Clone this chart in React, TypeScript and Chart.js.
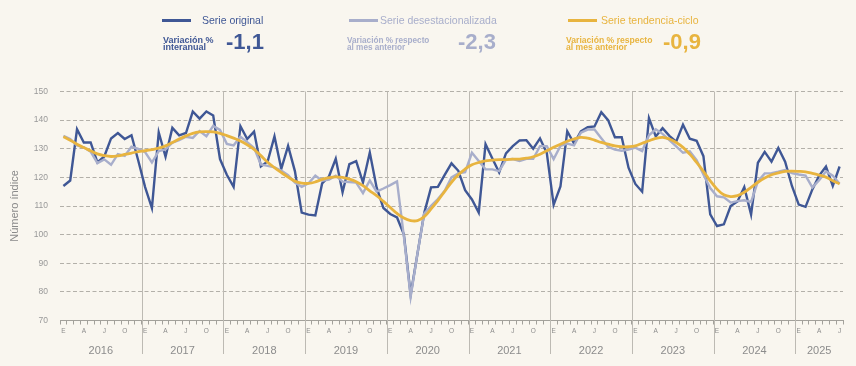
import React, { useEffect, useRef } from 'react';
import { Chart, registerables } from 'chart.js';

Chart.register(...registerables);

const years = [2016, 2017, 2018, 2019, 2020, 2021, 2022, 2023, 2024, 2025];
const monthsInLastYear = 7;
const monthLetters = ['E', 'F', 'M', 'A', 'M', 'J', 'J', 'A', 'S', 'O', 'N', 'D'];
const labeledMonths = [0, 3, 6, 9];
const yMin = 70;
const yMax = 150;
const yStep = 10;

const serieOriginal = [
  117.0, 118.9, 136.8, 132.2, 132.2, 125.2, 127.3, 133.6, 135.5, 133.4, 134.7, 125.8,
  116.6, 109.3, 135.7, 127.2, 137.3, 134.7, 135.5, 143.0, 140.5, 143.0, 141.6, 126.4,
  120.9, 116.7, 137.9, 133.4, 136.0, 123.8, 125.6, 134.3, 123.0, 131.0, 122.2, 107.7,
  107.0, 106.7, 117.9, 120.3, 126.5, 114.8, 124.6, 125.7, 118.2, 128.7, 116.5, 109.3,
  107.2, 106.0, 100.1, 79.0, 93.3, 107.6, 116.5, 116.7, 120.9, 124.9, 122.3, 115.5,
  112.3, 107.7, 131.6, 126.6, 121.7, 128.4, 130.9, 132.9, 133.0, 130.0, 133.6, 128.5,
  110.4, 116.8, 136.1, 131.8, 136.1, 137.5, 137.8, 142.8, 140.0, 134.0, 134.0, 123.4,
  117.7, 115.0, 140.7, 134.3, 137.2, 134.5, 132.5, 138.4, 133.5, 132.8, 127.4, 107.1,
  103.0, 103.6, 110.0, 111.6, 116.6, 107.0, 125.1, 128.9, 125.5, 130.3, 125.5, 117.0,
  110.5, 109.7, 115.8, 120.6, 123.8, 117.0, 123.8,
];

const serieDesestacionalizada = [
  134.5, 133.4, 131.2, 130.5, 129.0, 125.0, 126.3, 124.4, 128.1, 127.5, 130.7, 130.0,
  128.8, 125.2, 129.2, 129.8, 132.1, 133.0, 134.2, 133.8, 136.2, 134.4, 138.0, 136.6,
  131.7, 131.2, 134.2, 132.3, 130.3, 124.5, 124.0, 123.5, 122.4, 120.8, 118.2, 116.7,
  117.9, 120.6, 118.8, 119.2, 120.6, 118.5, 118.4, 118.2, 114.5, 118.9, 115.0, 116.1,
  117.3, 118.6, 99.5, 78.3, 93.4, 107.4, 110.1, 112.4, 115.3, 120.0, 121.4, 121.8,
  128.6, 125.7, 122.8, 122.8, 122.2, 126.2, 126.4, 125.7, 126.5, 126.5, 130.9, 130.9,
  126.4, 131.0, 131.8, 131.2, 135.6, 136.7, 136.7, 133.7, 130.7, 129.7, 129.3, 129.7,
  130.4, 129.2, 134.7, 136.8, 135.2, 133.0, 130.8, 128.6, 129.1, 126.0, 121.0, 116.3,
  113.4, 113.0, 111.2, 111.7, 112.0, 111.4, 118.6, 121.4, 121.5, 122.0, 122.6, 121.5,
  121.0, 120.6, 116.5, 119.0, 122.1, 120.6, 117.8,
];

const serieTendencia = [
  134.2, 133.0, 131.6, 130.4, 129.3, 128.2, 127.6, 127.3, 127.5, 128.0, 128.5, 129.0,
  129.3, 129.7, 130.2, 131.0, 132.2, 133.4, 134.5, 135.4, 135.9, 136.0, 135.9, 135.4,
  134.6, 133.7, 132.7, 131.4, 129.8, 127.6, 125.3, 123.4, 121.7, 120.1, 118.7, 118.0,
  117.9, 118.4, 119.3, 119.9, 120.2, 120.0, 119.4, 118.5, 117.1, 115.3, 113.6, 111.6,
  109.5, 107.4, 105.8, 104.9, 104.9, 106.3, 109.0, 111.9, 115.1, 118.3, 120.9, 122.9,
  124.4, 125.2, 125.8, 126.0, 126.2, 126.2, 126.4, 126.4, 126.7, 127.2, 128.1, 129.3,
  130.5, 131.6, 132.6, 133.4, 134.0, 133.7, 133.0, 132.2, 131.6, 131.0, 130.7, 130.7,
  131.0, 131.9, 132.8, 133.6, 134.0, 133.4, 132.2, 130.5, 128.1, 125.2, 122.1, 118.8,
  115.9, 113.9, 113.3, 113.6, 114.8, 116.5, 118.3, 119.8, 120.9, 121.6, 122.1, 122.2,
  122.1, 121.9, 121.4, 120.8, 120.1, 118.8, 117.7,
];

const legendItems = [
  { name: 'Serie original', caption: ['Variación %', 'interanual'], value: '-1,1' },
  { name: 'Serie desestacionalizada', caption: ['Variación % respecto', 'al mes anterior'], value: '-2,3' },
  { name: 'Serie tendencia-ciclo', caption: ['Variación % respecto', 'al mes anterior'], value: '-0,9' },
];

const yTitle = 'Número índice';

const categories: string[] = years.flatMap((yr, k) =>
  monthLetters
    .slice(0, k === years.length - 1 ? monthsInLastYear : 12)
    .map((m) => `${m} ${yr}`)
);

const COLORS = {
  original: '#3f5795',
  desest: '#a8aecb',
  tendencia: '#e8b43f',
  bg: '#f9f6ef',
};

const FONT = '"Liberation Sans", Arial, Helvetica, sans-serif';

const yearPlugin = {
  id: 'yearPlugin',
  beforeDatasetsDraw(chart: any) {
    const xs = chart.scales.x;
    const ctx = chart.ctx;
    const top = chart.chartArea.top;
    const step = xs.getPixelForValue(1) - xs.getPixelForValue(0);
    ctx.save();
    ctx.strokeStyle = '#bdbab3';
    ctx.lineWidth = 1;
    ctx.fillStyle = '#8c8c8c';
    ctx.font = `11px ${FONT}`;
    ctx.textAlign = 'center';
    ctx.textBaseline = 'middle';
    let start = 0;
    years.forEach((yr, k) => {
      const count = k === years.length - 1 ? monthsInLastYear : 12;
      const left = xs.getPixelForValue(start) - step / 2;
      const right = xs.getPixelForValue(start + count - 1) + step / 2;
      if (k > 0) {
        const px = Math.round(left) + 0.5;
        ctx.beginPath();
        ctx.moveTo(px, top);
        ctx.lineTo(px, 354);
        ctx.stroke();
      }
      ctx.fillText(String(yr), (left + right) / 2, 351);
      start += count;
    });
    ctx.restore();
  },
};

function LegendBlock({ item, color, x, swatchX, nameX, valueX, captionSize }: any) {
  return (
    <>
      <div style={{ position: 'absolute', left: swatchX, top: 19, width: 29, height: 3, background: color }} />
      <div style={{ position: 'absolute', left: nameX, top: 13, fontFamily: FONT, fontSize: 10.5, lineHeight: '14px', color, whiteSpace: 'nowrap' }}>
        {item.name}
      </div>
      <div style={{ position: 'absolute', left: x, top: 36.5, fontFamily: FONT, fontWeight: 700, fontSize: captionSize, lineHeight: '7px', color, whiteSpace: 'nowrap' }}>
        {item.caption[0]}
        <br />
        {item.caption[1]}
      </div>
      <div style={{ position: 'absolute', left: valueX, top: 31, fontFamily: FONT, fontWeight: 700, fontSize: 22, lineHeight: '22px', color, whiteSpace: 'nowrap' }}>
        {item.value}
      </div>
    </>
  );
}

export default function App() {
  const canvasRef = useRef<HTMLCanvasElement | null>(null);

  useEffect(() => {
    if (!canvasRef.current) return;
    const chart = new Chart(canvasRef.current, {
      type: 'line',
      data: {
        labels: categories,
        datasets: [
          {
            label: 'Serie tendencia-ciclo',
            data: serieTendencia,
            borderColor: COLORS.tendencia,
            borderWidth: 2.8,
            pointRadius: 0,
            tension: 0.4,
            fill: false,
          },
          {
            label: 'Serie desestacionalizada',
            data: serieDesestacionalizada,
            borderColor: COLORS.desest,
            borderWidth: 2.4,
            pointRadius: 0,
            tension: 0,
            fill: false,
          },
          {
            label: 'Serie original',
            data: serieOriginal,
            borderColor: COLORS.original,
            borderWidth: 2.4,
            pointRadius: 0,
            tension: 0,
            fill: false,
          },
        ],
      },
      options: {
        animation: false,
        responsive: false,
        maintainAspectRatio: false,
        layout: { padding: { top: 91.5, left: 0, right: 13, bottom: 0 } },
        plugins: {
          legend: { display: false },
          tooltip: { enabled: false },
        },
        scales: {
          x: {
            type: 'category',
            offset: true,
            afterFit: (s: any) => {
              s.height = 45.5;
            },
            grid: {
              offset: true,
              drawOnChartArea: false,
              drawTicks: true,
              tickLength: 4,
              tickColor: '#a3a19b',
              lineWidth: 1,
            },
            border: { display: true, color: '#a3a19b', width: 1 },
            ticks: {
              autoSkip: false,
              maxRotation: 0,
              minRotation: 0,
              padding: 3,
              color: '#8c8c8c',
              font: { family: FONT, size: 6.5 },
              callback: (_v: any, idx: number) => {
                const m = idx % 12;
                return labeledMonths.includes(m) ? monthLetters[m] : '';
              },
            },
          },
          y: {
            min: yMin,
            max: yMax,
            afterFit: (s: any) => {
              s.width = 60;
            },
            grid: {
              color: (ctx: any) => (ctx.tick && ctx.tick.value === yMin ? 'rgba(0,0,0,0)' : '#b3b0a9'),
              lineWidth: 1,
              drawTicks: false,
            },
            border: { display: false, dash: [4, 2.5] },
            ticks: {
              stepSize: yStep,
              padding: 12,
              color: '#999999',
              font: { family: FONT, size: 8.5 },
            },
            title: {
              display: true,
              text: yTitle,
              color: '#8a8a8a',
              font: { family: FONT, size: 11 },
              padding: { top: 8, bottom: 0 },
            },
          },
        },
      },
      plugins: [yearPlugin],
    });
    return () => chart.destroy();
  }, []);

  return (
    <div style={{ position: 'fixed', left: 0, top: 0, width: 856, height: 366, background: COLORS.bg, overflow: 'hidden' }}>
      <canvas ref={canvasRef} width={856} height={366} style={{ position: 'absolute', left: 0, top: 0, width: 856, height: 366 }} />
      <LegendBlock item={legendItems[0]} color={COLORS.original} swatchX={162} nameX={202} x={163} valueX={226} captionSize={9} />
      <LegendBlock item={legendItems[1]} color={COLORS.desest} swatchX={349} nameX={380} x={347} valueX={458} captionSize={8.2} />
      <LegendBlock item={legendItems[2]} color={COLORS.tendencia} swatchX={568} nameX={601} x={566} valueX={663} captionSize={8.6} />
    </div>
  );
}
